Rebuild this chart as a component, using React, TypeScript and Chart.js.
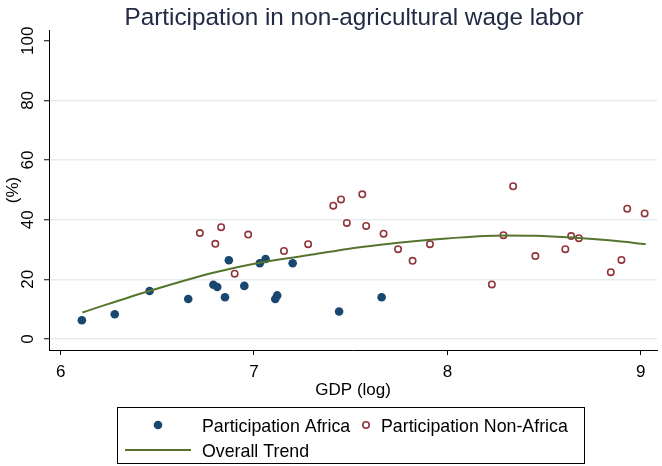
import React, { useEffect, useRef } from 'react';
import { Chart, registerables } from 'chart.js';

Chart.register(...registerables);

const chartTitle = 'Participation in non-agricultural wage labor';
const xAxisTitle = 'GDP (log)';
const yAxisTitle = '(%)';
const xTickValues = [6, 7, 8, 9];
const yTickValues = [0, 20, 40, 60, 80, 100];

const africaLabel = 'Participation Africa';
const africaX = [6.11, 6.28, 6.46, 6.66, 6.79, 6.81, 6.85, 6.87, 6.95, 7.03, 7.06, 7.11, 7.12, 7.2, 7.44, 7.66];
const africaY = [6.3, 8.3, 16.1, 13.4, 18.2, 17.4, 14.0, 26.4, 17.8, 25.4, 26.8, 13.4, 14.6, 25.4, 9.2, 14.0];

const nonAfricaLabel = 'Participation Non-Africa';
const nonAfricaX = [6.72, 6.83, 6.8, 6.97, 6.9, 7.155, 7.28, 7.41, 7.45, 7.48, 7.56, 7.58, 7.67, 7.745, 7.82, 7.91, 8.34, 8.29, 8.23, 8.455, 8.61, 8.64, 8.68, 8.845, 8.9, 8.93, 9.02];
const nonAfricaY = [35.5, 37.5, 31.9, 35.0, 21.9, 29.5, 31.8, 44.7, 46.8, 38.9, 48.5, 37.9, 35.3, 30.1, 26.2, 31.8, 51.2, 34.8, 18.3, 27.8, 30.1, 34.5, 33.8, 22.4, 26.5, 43.7, 42.1];

const trendLabel = 'Overall Trend';
const trendX = [6.113, 6.458, 6.8, 7.022, 7.313, 7.484, 7.654, 7.826, 7.996, 8.287, 8.458, 8.646, 8.851, 9.026];
const trendY = [8.9, 16.1, 22.4, 25.5, 28.4, 30.2, 31.6, 32.8, 33.7, 34.7, 34.6, 34.0, 33.0, 31.8];

const NAVY = '#1a476f';
const MAROON = '#90353b';
const GREEN = '#55752f';
const FONT = '"Liberation Sans", Arial, Helvetica, sans-serif';

const toPoints = (xs: number[], ys: number[]) => xs.map((x, i) => ({ x, y: ys[i] }));

const overlayPlugin = {
  id: 'overlay',
  afterDraw(chart: any) {
    const ctx: CanvasRenderingContext2D = chart.ctx;
    const { left, right, top, bottom } = chart.chartArea;
    const yScale = chart.scales.y;
    ctx.save();

    // Title
    ctx.fillStyle = '#212b45';
    ctx.font = `24.3px ${FONT}`;
    ctx.textAlign = 'center';
    ctx.textBaseline = 'alphabetic';
    ctx.fillText(chartTitle, (left + right) / 2 + 1, 25);

    // Y tick labels (vertical)
    ctx.fillStyle = '#000';
    ctx.font = `17px ${FONT}`;
    yTickValues.forEach((v) => {
      const py = yScale.getPixelForValue(v);
      ctx.save();
      ctx.translate(28.5, py);
      ctx.rotate(-Math.PI / 2);
      ctx.textAlign = 'center';
      ctx.textBaseline = 'middle';
      ctx.fillText(String(v), 0, 0);
      ctx.restore();
    });

    // Y axis title
    ctx.save();
    ctx.translate(13.5, (top + bottom) / 2);
    ctx.rotate(-Math.PI / 2);
    ctx.textAlign = 'center';
    ctx.textBaseline = 'middle';
    ctx.fillText(yAxisTitle, 0, 0);
    ctx.restore();

    // X axis title
    ctx.textAlign = 'center';
    ctx.textBaseline = 'middle';
    ctx.font = `17px ${FONT}`;
    ctx.fillText(xAxisTitle, (left + right) / 2, 390);

    // Legend
    ctx.fillStyle = '#fff';
    ctx.fillRect(117.5, 407.5, 467, 56);
    ctx.strokeStyle = '#000';
    ctx.lineWidth = 1;
    ctx.strokeRect(117.5, 407.5, 467, 56);

    ctx.fillStyle = NAVY;
    ctx.beginPath();
    ctx.arc(158, 425, 4.3, 0, Math.PI * 2);
    ctx.fill();

    ctx.strokeStyle = MAROON;
    ctx.lineWidth = 1.6;
    ctx.beginPath();
    ctx.arc(366, 425, 3.2, 0, Math.PI * 2);
    ctx.stroke();

    ctx.strokeStyle = GREEN;
    ctx.lineWidth = 2;
    ctx.beginPath();
    ctx.moveTo(125, 450);
    ctx.lineTo(191, 450);
    ctx.stroke();

    ctx.fillStyle = '#000';
    ctx.font = `17.8px ${FONT}`;
    ctx.textAlign = 'left';
    ctx.textBaseline = 'alphabetic';
    ctx.fillText(africaLabel, 202, 431.5);
    ctx.fillText(nonAfricaLabel, 381, 431.5);
    ctx.fillText(trendLabel, 202, 456.5);

    ctx.restore();
  },
};

export default function App() {
  const canvasRef = useRef<HTMLCanvasElement | null>(null);

  useEffect(() => {
    const prevMargin = document.body.style.margin;
    document.body.style.margin = '0';
    const canvas = canvasRef.current;
    if (!canvas) return;
    const chart = new Chart(canvas, {
      type: 'scatter',
      data: {
        datasets: [
          {
            label: africaLabel,
            data: toPoints(africaX, africaY),
            pointRadius: 4.3,
            pointHoverRadius: 4.3,
            backgroundColor: NAVY,
            borderColor: NAVY,
            borderWidth: 0,
            order: 3,
          },
          {
            label: nonAfricaLabel,
            data: toPoints(nonAfricaX, nonAfricaY),
            pointRadius: 3.2,
            pointHoverRadius: 3.2,
            backgroundColor: 'rgba(255,255,255,0)',
            borderColor: MAROON,
            borderWidth: 1.6,
            order: 2,
          },
          {
            label: trendLabel,
            type: 'line',
            data: toPoints(trendX, trendY),
            showLine: true,
            pointRadius: 0,
            borderColor: GREEN,
            borderWidth: 2,
            cubicInterpolationMode: 'monotone',
            fill: false,
            order: 1,
          } as any,
        ],
      },
      options: {
        responsive: false,
        animation: false,
        events: [],
        layout: { padding: { top: 30, left: 0, right: 0, bottom: 0 } },
        plugins: {
          legend: { display: false },
          title: { display: false },
          tooltip: { enabled: false },
        },
        scales: {
          x: {
            type: 'linear',
            min: 5.94,
            max: 9.085,
            afterBuildTicks: (scale: any) => {
              scale.ticks = xTickValues.map((v) => ({ value: v }));
            },
            afterFit: (scale: any) => {
              scale.height = 116;
            },
            border: { display: true, color: '#000', width: 1 },
            grid: {
              drawOnChartArea: false,
              drawTicks: true,
              tickLength: 5,
              tickColor: '#000',
              tickWidth: 1,
            },
            ticks: {
              color: '#000',
              font: { family: FONT, size: 17 },
              padding: 7,
              maxRotation: 0,
              minRotation: 0,
              callback: (v: any) => String(v),
            },
          },
          y: {
            type: 'linear',
            min: -3.7,
            max: 103.6,
            afterBuildTicks: (scale: any) => {
              scale.ticks = yTickValues.map((v) => ({ value: v }));
            },
            afterFit: (scale: any) => {
              scale.width = 49;
            },
            border: { display: true, color: '#000', width: 1 },
            grid: {
              drawOnChartArea: true,
              color: (c: any) => (c.tick && c.tick.value === 100 ? 'rgba(0,0,0,0)' : '#e6edf0'),
              lineWidth: 1.5,
              drawTicks: true,
              tickLength: 5,
              tickColor: '#000',
              tickWidth: 1,
            },
            ticks: { display: false },
          },
        },
      } as any,
      plugins: [overlayPlugin],
    });
    return () => {
      chart.destroy();
      document.body.style.margin = prevMargin;
    };
  }, []);

  return (
    <div style={{ width: 662, height: 466, position: 'relative', background: '#fff' }}>
      <canvas ref={canvasRef} width={662} height={466} style={{ display: 'block' }} />
    </div>
  );
}
